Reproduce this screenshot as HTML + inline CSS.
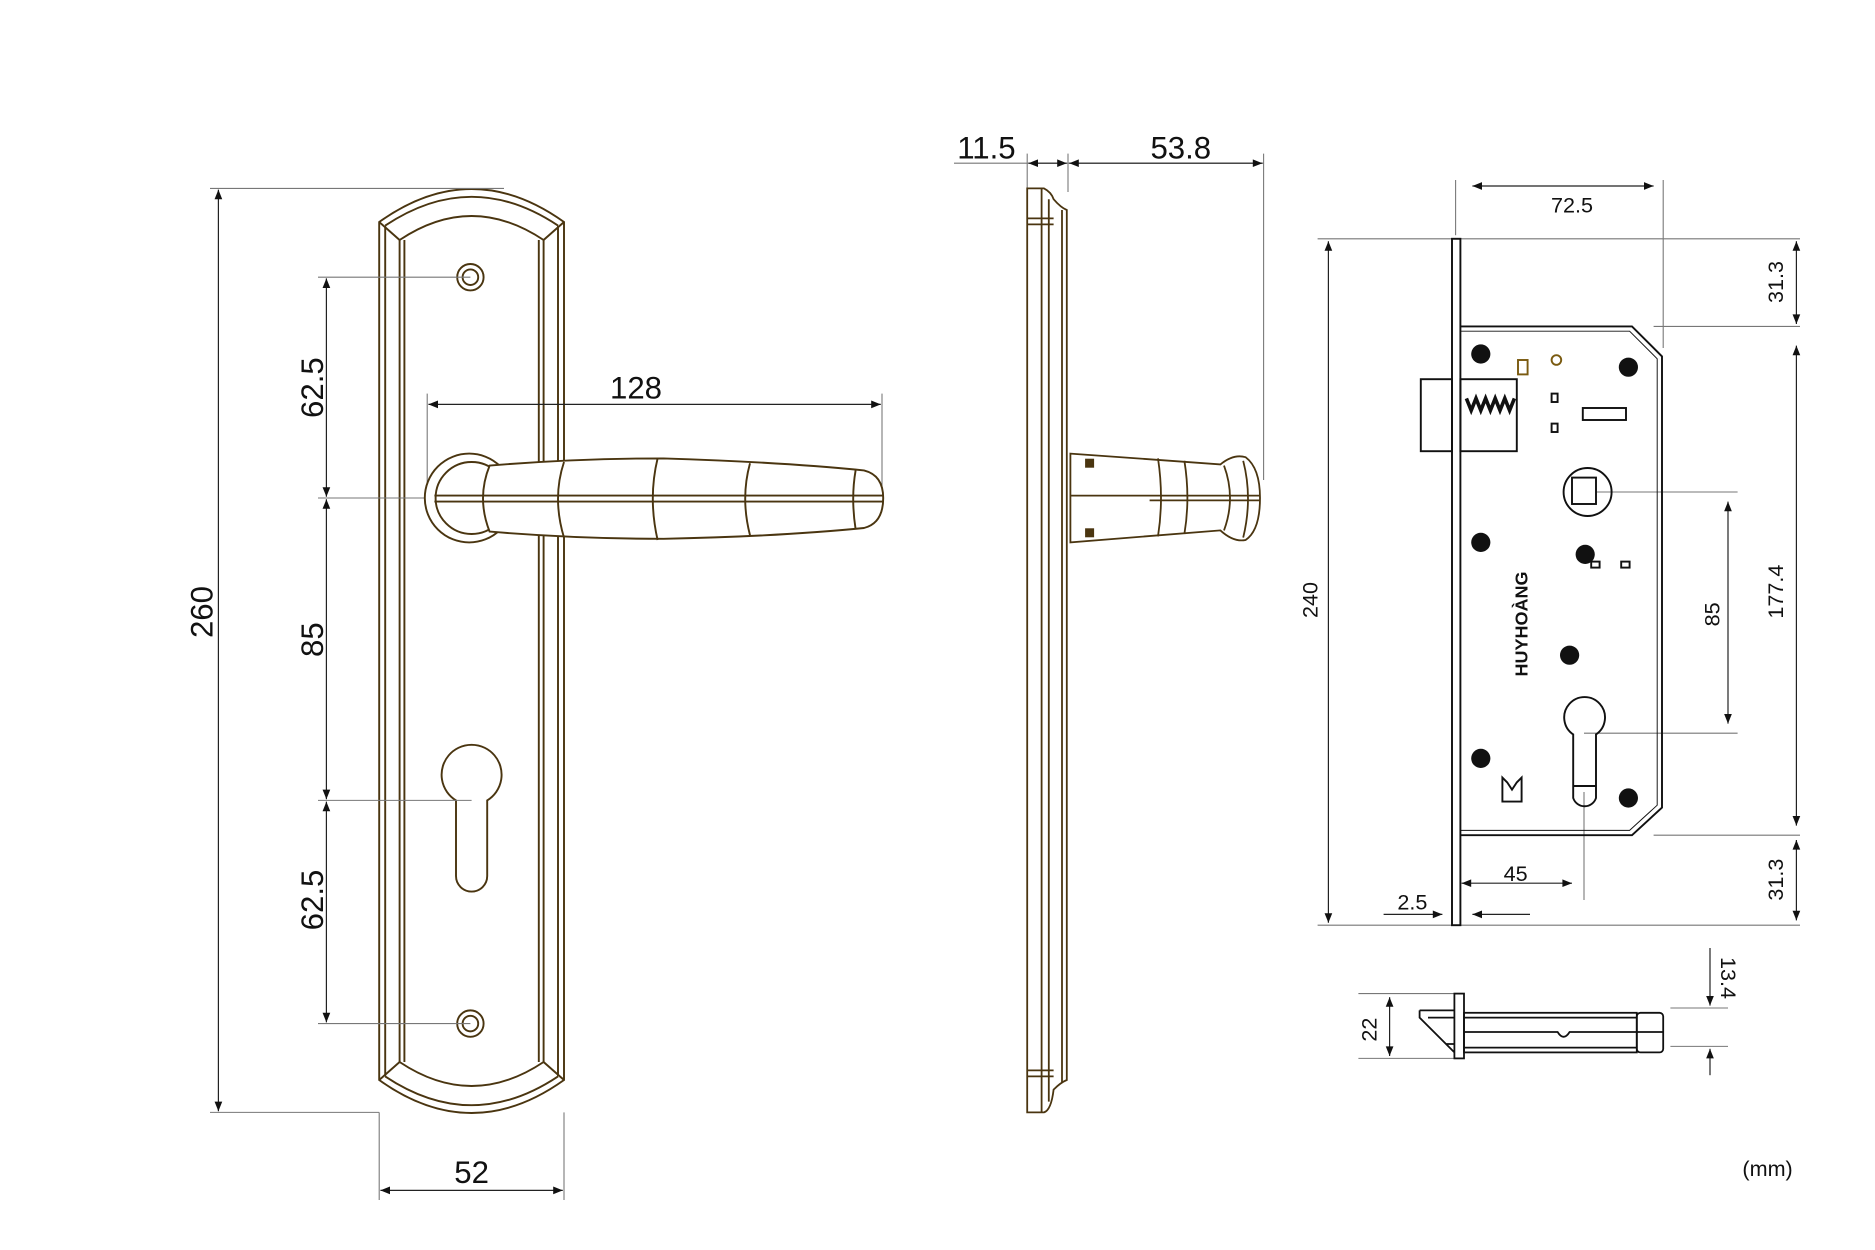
<!DOCTYPE html>
<html><head><meta charset="utf-8"><style>
html,body{margin:0;padding:0;background:#fff;}
svg{display:block;}
text{font-family:"Liberation Sans",sans-serif;fill:#111;}
</style></head><body>
<svg width="1875" height="1250" viewBox="0 0 1562.5 1041.67" xmlns="http://www.w3.org/2000/svg">
<defs>
<marker id="a" viewBox="0 0 10 10" refX="10" refY="5" markerWidth="10" markerHeight="8" orient="auto-start-reverse" markerUnits="userSpaceOnUse"><path d="M0,1 L10,5 L0,9 Z" fill="#111"/></marker>
</defs>
<!-- left plate -->
<g stroke="#4a3510" stroke-width="1.6" fill="none">
<path d="M316,185 Q393,130 470,185 L470,900 Q393,955 316,900 Z" fill="#fff"/>
<path d="M321,188 Q393,140 465,188"/>
<path d="M321,897 Q393,945 465,897"/>
<path d="M333,200 Q393,160 453,200"/>
<path d="M333,885 Q393,925 453,885"/>
<line x1="321" y1="188" x2="321" y2="897"/><line x1="333" y1="200" x2="333" y2="885"/><line x1="337" y1="200" x2="337" y2="885"/>
<line x1="465" y1="188" x2="465" y2="897"/><line x1="453" y1="200" x2="453" y2="885"/><line x1="449" y1="200" x2="449" y2="885"/>
<line x1="316" y1="185" x2="333" y2="200"/><line x1="470" y1="185" x2="453" y2="200"/>
<line x1="316" y1="900" x2="333" y2="885"/><line x1="470" y1="900" x2="453" y2="885"/>
<circle cx="392" cy="231" r="11"/><circle cx="392" cy="231" r="6.5"/>
<circle cx="392" cy="853" r="11"/><circle cx="392" cy="853" r="6.5"/>
<path d="M380,667 A25,25 0 1 1 406,667 L406,730 A13,13 0 0 1 380,730 Z"/>
</g>
<g stroke="#777" stroke-width="0.9" fill="none">
<line x1="175" y1="157" x2="420" y2="157"/>
<line x1="175" y1="927" x2="316" y2="927"/>
<line x1="265" y1="231" x2="392" y2="231"/>
<line x1="265" y1="415" x2="392" y2="415"/>
<line x1="265" y1="667" x2="393" y2="667"/>
<line x1="265" y1="853" x2="392" y2="853"/>
<line x1="356" y1="328" x2="356" y2="415"/>
<line x1="735" y1="328" x2="735" y2="415"/>
<line x1="316" y1="927" x2="316" y2="1000"/>
<line x1="470" y1="927" x2="470" y2="1000"/>
<line x1="856" y1="128" x2="856" y2="157"/>
<line x1="890" y1="128" x2="890" y2="160"/>
<line x1="1053" y1="128" x2="1053" y2="400"/>
<line x1="795" y1="136" x2="1053" y2="136"/>
<line x1="1213" y1="150" x2="1213" y2="196"/>
<line x1="1386" y1="150" x2="1386" y2="290"/>
<line x1="1098" y1="199" x2="1500" y2="199"/>
<line x1="1098" y1="771" x2="1500" y2="771"/>
<line x1="1378" y1="272" x2="1500" y2="272"/>
<line x1="1378" y1="696" x2="1500" y2="696"/>
<line x1="1330" y1="410" x2="1448" y2="410"/>
<line x1="1320" y1="611" x2="1448" y2="611"/>
<line x1="1320" y1="660" x2="1320" y2="750"/>
<line x1="1132" y1="828" x2="1212" y2="828"/>
<line x1="1132" y1="882" x2="1212" y2="882"/>
<line x1="1392" y1="840" x2="1440" y2="840"/>
<line x1="1392" y1="872" x2="1440" y2="872"/>
</g>
<g stroke="#4a3510" stroke-width="1.6" fill="none">
<circle cx="391" cy="415" r="37" fill="#fff"/>
<circle cx="393" cy="415" r="30"/>
<path d="M408,388 Q480,382 553,382 Q650,385 720,392 Q736,396 736,415 Q736,436 720,440 Q650,447 553,449 Q480,449 408,443 Q397,415 408,388 Z" fill="#fff"/>
<line x1="362" y1="413" x2="736" y2="413"/><line x1="362" y1="418" x2="736" y2="418"/>
<path d="M470,385 Q460,415 470,448"/><path d="M548,382 Q540,415 548,450"/><path d="M625,386 Q617,415 625,446"/><path d="M713,392 Q709,415 713,441"/>
</g>
<g stroke="#222" stroke-width="1" fill="none" marker-start="url(#a)" marker-end="url(#a)">
<line x1="182" y1="158" x2="182" y2="926"/>
<line x1="272" y1="232" x2="272" y2="414"/>
<line x1="272" y1="416" x2="272" y2="666"/>
<line x1="272" y1="668" x2="272" y2="852"/>
<line x1="357" y1="337" x2="734" y2="337"/>
<line x1="317" y1="992" x2="469" y2="992"/>
<line x1="857" y1="136" x2="889" y2="136"/>
<line x1="891" y1="136" x2="1052" y2="136"/>
<line x1="1227" y1="155" x2="1378" y2="155"/>
<line x1="1107" y1="201" x2="1107" y2="769"/>
<line x1="1497" y1="201" x2="1497" y2="270"/>
<line x1="1497" y1="288" x2="1497" y2="688"/>
<line x1="1497" y1="700" x2="1497" y2="767"/>
<line x1="1440" y1="418" x2="1440" y2="603"/>
<line x1="1218" y1="736" x2="1310" y2="736"/>
<line x1="1158" y1="831" x2="1158" y2="880"/>
</g>
<g stroke="#222" stroke-width="1" fill="none" marker-end="url(#a)">
<line x1="1153" y1="762" x2="1202" y2="762"/>
<line x1="1275" y1="762" x2="1227" y2="762"/>
<line x1="1425" y1="790" x2="1425" y2="838"/>
<line x1="1425" y1="896" x2="1425" y2="874"/>
</g>
<g font-size="26">
<text x="168" y="510" text-anchor="middle" transform="rotate(-90 168 510)" dy="9">260</text>
<text x="260" y="323" text-anchor="middle" transform="rotate(-90 260 323)" dy="9">62.5</text>
<text x="260" y="533" text-anchor="middle" transform="rotate(-90 260 533)" dy="9">85</text>
<text x="260" y="750" text-anchor="middle" transform="rotate(-90 260 750)" dy="9">62.5</text>
<text x="530" y="332" text-anchor="middle">128</text>
<text x="393" y="986" text-anchor="middle">52</text>
<text x="822" y="132" text-anchor="middle">11.5</text>
<text x="984" y="132" text-anchor="middle">53.8</text>
</g>
<g font-size="18">
<text x="1310" y="177" text-anchor="middle">72.5</text>
<text x="1092" y="500" text-anchor="middle" transform="rotate(-90 1092 500)" dy="6">240</text>
<text x="1480" y="235" text-anchor="middle" transform="rotate(-90 1480 235)" dy="6">31.3</text>
<text x="1480" y="493" text-anchor="middle" transform="rotate(-90 1480 493)" dy="6">177.4</text>
<text x="1480" y="733" text-anchor="middle" transform="rotate(-90 1480 733)" dy="6">31.3</text>
<text x="1427" y="512" text-anchor="middle" transform="rotate(-90 1427 512)" dy="6">85</text>
<text x="1263" y="734" text-anchor="middle">45</text>
<text x="1177" y="758" text-anchor="middle">2.5</text>
<text x="1141" y="858" text-anchor="middle" transform="rotate(-90 1141 858)" dy="6">22</text>
<text x="1440" y="815" text-anchor="middle" transform="rotate(90 1440 815)" dy="6">13.4</text>
<text x="1473" y="980" text-anchor="middle">(mm)</text>
</g>
<!-- side view -->
<g stroke="#4a3510" stroke-width="1.5" fill="none">
<path d="M856,157 L870,157 Q876,160 878,166 Q884,173 889,175 L889,900 Q884,902 878,908 Q876,925 870,927 L856,927 Z"/>
<line x1="856" y1="182" x2="878" y2="182"/><line x1="856" y1="187" x2="878" y2="187"/>
<line x1="856" y1="897" x2="878" y2="897"/><line x1="856" y1="892" x2="878" y2="892"/>
<line x1="868" y1="157" x2="868" y2="927"/><line x1="874" y1="166" x2="874" y2="918"/><line x1="885" y1="175" x2="885" y2="902"/>
<path d="M892,378 L1017,387 Q1028,378 1038,381 Q1050,390 1050,415 Q1050,442 1038,450 Q1028,452 1017,442 L892,452 Z" fill="#fff"/>
<line x1="892" y1="413" x2="1050" y2="413"/><line x1="958" y1="417" x2="1050" y2="417"/>
<path d="M965,382 Q970,415 965,447"/><path d="M987,384 Q992,415 987,445"/><path d="M1020,388 Q1030,415 1020,442"/><path d="M1036,384 Q1044,415 1036,448"/>
<rect x="905" y="383" width="6" height="6" fill="#4a3510"/><rect x="905" y="441" width="6" height="6" fill="#4a3510"/>
</g>
<!-- lock body -->
<g stroke="#111" stroke-width="1.6" fill="none">
<rect x="1210" y="199" width="7" height="572" fill="#fff"/>
<path d="M1217,272 L1360,272 L1385,297 L1385,673 L1360,696 L1217,696"/>
<path d="M1217,276 L1358,276 L1381,299 L1381,671 L1358,692 L1217,692" stroke-width="0.8"/>
<rect x="1184" y="316" width="26" height="60"/>
<rect x="1217" y="316" width="47" height="60"/>
<path d="M1222,332 l4,10 l4,-10 l4,10 l4,-10 l4,10 l4,-10 l4,10 l4,-10 l4,10 l4,-10" stroke-width="3"/>
<rect x="1293" y="328" width="5" height="7"/><rect x="1293" y="353" width="5" height="7"/>
<rect x="1319" y="340" width="36" height="10"/>
<circle cx="1323" cy="410" r="20"/><rect x="1310" y="398" width="20" height="22"/>
<rect x="1326" y="468" width="7" height="5"/><rect x="1351" y="468" width="7" height="5"/>
<path d="M1311,612 A17,17 0 1 1 1330,612 L1330,665 A10,10 0 0 1 1311,665 Z"/>
<line x1="1311" y1="655" x2="1330" y2="655"/>
<path d="M1252,648 L1252,668 L1268,668 L1268,648 L1264,652 L1260,658 L1256,652 Z"/>
<rect x="1265" y="300" width="8" height="12" stroke="#7a5a10"/>
<circle cx="1297" cy="300" r="4" stroke="#7a5a10"/>
</g>
<g fill="#111">
<circle cx="1234" cy="295" r="8"/><circle cx="1357" cy="306" r="8"/><circle cx="1234" cy="452" r="8"/>
<circle cx="1321" cy="462" r="8"/><circle cx="1308" cy="546" r="8"/><circle cx="1234" cy="632" r="8"/><circle cx="1357" cy="665" r="8"/>
</g>
<text x="1268" y="520" font-family="'Liberation Serif',serif" font-weight="bold" font-size="15" text-anchor="middle" transform="rotate(-90 1268 520)" dy="5">HUYHOÀNG</text>
<!-- bottom latch view -->
<g stroke="#111" stroke-width="1.5" fill="none">
<rect x="1212" y="828" width="8" height="54" fill="#fff"/>
<path d="M1183,842 L1212,842 M1183,842 L1183,848 L1212,877 M1190,848 L1212,848 M1205,870 L1212,870"/>
<rect x="1220" y="844" width="144" height="33"/>
<rect x="1364" y="844" width="22" height="33" rx="3"/>
<line x1="1220" y1="848" x2="1364" y2="848"/><line x1="1220" y1="873" x2="1364" y2="873"/>
<path d="M1220,860 L1298,860 Q1303,868 1308,860 L1386,860"/>
</g>
</svg>
</body></html>
